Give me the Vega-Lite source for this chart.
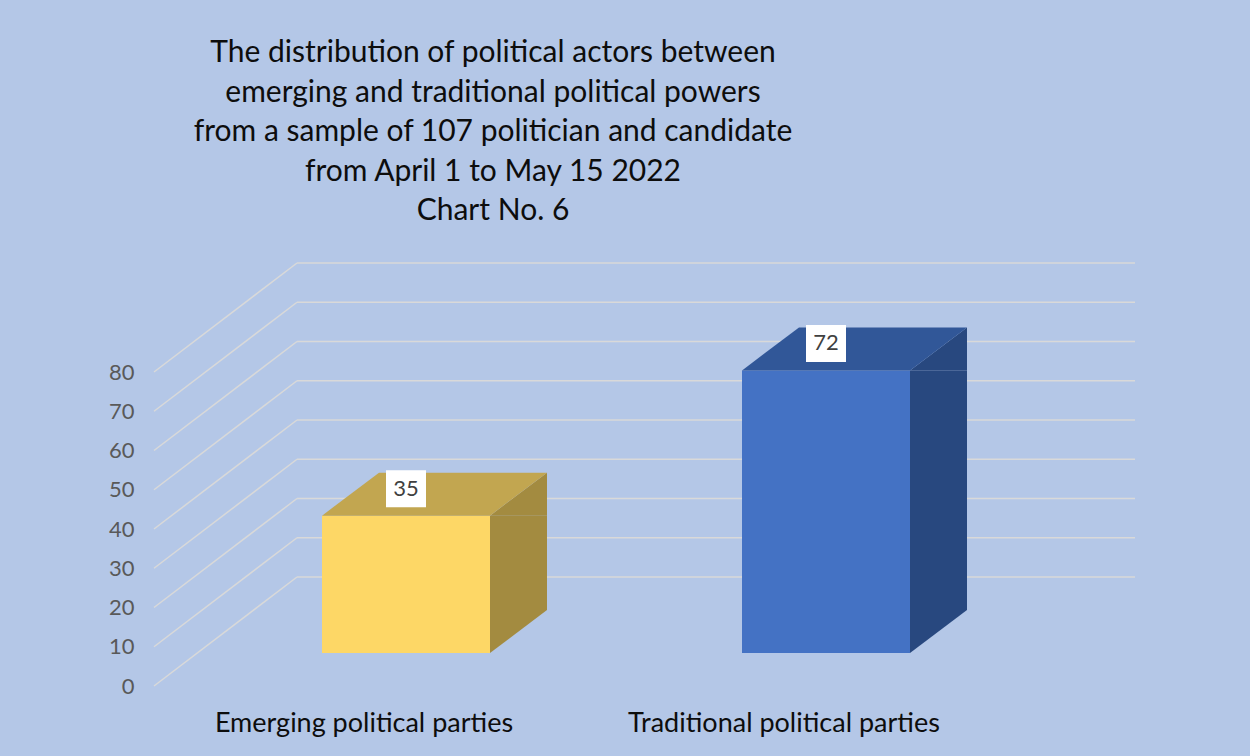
{
  "$schema": "https://vega.github.io/schema/vega-lite/v6.json",
  "width": 840,
  "height": 314,
  "autosize": {"type": "none"},
  "padding": {"left": 154, "top": 372, "right": 256, "bottom": 70},
  "background": "#B4C7E7",
  "title": {
    "text": [
      "The distribution of political actors between",
      "emerging and traditional political powers",
      "from a sample of 107 politician and candidate",
      "from April 1 to May 15 2022",
      "Chart No. 6"
    ],
    "font": "Lato",
    "fontSize": 30,
    "fontWeight": "normal",
    "color": "#0D0D0D",
    "lineHeight": 39.5,
    "anchor": "middle",
    "frame": "group",
    "dx": -81,
    "offset": 36
  },
  "datasets": {
    "bars": [
      {"party": "Emerging political parties", "count": 35},
      {"party": "Traditional political parties", "count": 72}
    ],
    "grid": [
      {"tick": 0}, {"tick": 10}, {"tick": 20}, {"tick": 30}, {"tick": 40},
      {"tick": 50}, {"tick": 60}, {"tick": 70}, {"tick": 80}
    ]
  },
  "layer": [
    {
      "data": {"name": "grid"},
      "mark": {"type": "rule", "color": "#D9D9D9", "strokeWidth": 1.5, "xOffset": -67, "x2Offset": 351, "yOffset": -109, "y2Offset": -109},
      "encoding": {
        "x": {"datum": "Emerging political parties", "type": "nominal", "axis": {"title": null}},
        "x2": {"datum": "Traditional political parties"},
        "y": {
          "field": "tick",
          "type": "quantitative",
          "scale": {"domain": [0, 80], "nice": false, "zero": true},
          "axis": {"title": null, "values": [0, 10, 20, 30, 40, 50, 60, 70, 80], "tickCount": 9, "labelOverlap": false, "labelSeparation": 0}
        },
        "y2": {"field": "tick"}
      }
    },
    {
      "data": {"name": "grid"},
      "mark": {"type": "rule", "color": "#D9D9D9", "strokeWidth": 1.5, "xOffset": -210, "x2Offset": -67, "y2Offset": -109},
      "encoding": {
        "x": {"datum": "Emerging political parties", "type": "nominal", "axis": {"title": null}},
        "x2": {"datum": "Emerging political parties"},
        "y": {"field": "tick", "type": "quantitative", "axis": {"title": null, "values": [0, 10, 20, 30, 40, 50, 60, 70, 80], "tickCount": 9, "labelOverlap": false, "labelSeparation": 0}},
        "y2": {"field": "tick"}
      }
    },
    {
      "data": {"name": "bars"},
      "mark": {"type": "bar", "width": 168, "xOffset": 42, "yOffset": -33, "y2Offset": -33},
      "encoding": {
        "x": {
          "field": "party",
          "type": "nominal",
          "sort": null,
          "scale": {"domain": ["Emerging political parties", "Traditional political parties"], "paddingInner": 0, "paddingOuter": 0},
          "axis": {"title": null}
        },
        "y": {"field": "count", "type": "quantitative", "axis": {"title": null, "values": [0, 10, 20, 30, 40, 50, 60, 70, 80], "tickCount": 9, "labelOverlap": false, "labelSeparation": 0}},
        "y2": {"datum": 0},
        "color": {
          "field": "party",
          "type": "nominal",
          "scale": {"domain": ["Emerging political parties", "Traditional political parties"], "range": ["#FDD766", "#4472C4"]},
          "legend": null
        }
      }
    },
    {
      "data": {"name": "bars"},
      "mark": {"type": "bar", "width": 57, "xOffset": 154.5, "yOffset": -33, "y2Offset": -76},
      "encoding": {
        "x": {"field": "party", "type": "nominal", "sort": null},
        "y": {"field": "count", "type": "quantitative"},
        "y2": {"datum": 0},
        "color": {
          "field": "party",
          "type": "nominal",
          "scale": {"domain": ["Emerging political parties", "Traditional political parties"], "range": ["#A38B40", "#28487F"]},
          "legend": null
        }
      }
    },
    {
      "data": {"name": "bars"},
      "mark": {"type": "point", "filled": true, "opacity": 1, "size": 160000, "xOffset": 42, "yOffset": -33, "shape": "M0.42,0L0.705,-0.215L0.705,0Z"},
      "encoding": {
        "x": {"field": "party", "type": "nominal", "sort": null},
        "y": {"field": "count", "type": "quantitative"},
        "color": {
          "field": "party",
          "type": "nominal",
          "scale": {"domain": ["Emerging political parties", "Traditional political parties"], "range": ["#A38B40", "#28487F"]},
          "legend": null
        }
      }
    },
    {
      "data": {"name": "bars"},
      "mark": {"type": "point", "filled": true, "opacity": 1, "size": 160000, "xOffset": 42, "yOffset": -33, "shape": "M0.42,-0.215L0.42,0L0.705,-0.215Z"},
      "encoding": {
        "x": {"field": "party", "type": "nominal", "sort": null},
        "y": {"datum": 0, "type": "quantitative"},
        "color": {
          "field": "party",
          "type": "nominal",
          "scale": {"domain": ["Emerging political parties", "Traditional political parties"], "range": ["#A38B40", "#28487F"]},
          "legend": null
        }
      }
    },
    {
      "data": {"name": "bars"},
      "mark": {"type": "point", "filled": true, "opacity": 1, "size": 160000, "xOffset": 42, "yOffset": -33, "shape": "M-0.42,0L0.42,0L0.705,-0.215L-0.135,-0.215Z"},
      "encoding": {
        "x": {"field": "party", "type": "nominal", "sort": null},
        "y": {"field": "count", "type": "quantitative"},
        "color": {
          "field": "party",
          "type": "nominal",
          "scale": {"domain": ["Emerging political parties", "Traditional political parties"], "range": ["#C2A650", "#315798"]},
          "legend": null
        }
      }
    },
    {
      "data": {"name": "bars"},
      "mark": {"type": "point", "filled": true, "opacity": 1, "size": 160000, "color": "#FFFFFF", "xOffset": 42, "yOffset": -60, "shape": "M-0.1,-0.0925L0.1,-0.0925L0.1,0.0925L-0.1,0.0925Z"},
      "encoding": {
        "x": {"field": "party", "type": "nominal", "sort": null},
        "y": {"field": "count", "type": "quantitative"}
      }
    },
    {
      "data": {"name": "bars"},
      "mark": {"type": "text", "font": "Lato", "fontSize": 22, "color": "#404040", "align": "center", "baseline": "middle", "xOffset": 42, "yOffset": -60},
      "encoding": {
        "x": {"field": "party", "type": "nominal", "sort": null},
        "y": {"field": "count", "type": "quantitative"},
        "text": {"field": "count", "type": "quantitative"}
      }
    }
  ],
  "resolve": {"scale": {"color": "independent"}},
  "config": {
    "view": {"stroke": null},
    "font": "Lato",
    "axisX": {
      "domain": false,
      "ticks": false,
      "grid": false,
      "labelAngle": 0,
      "labelAlign": "center",
      "labelBaseline": "top",
      "labelLimit": 0,
      "labelPadding": 24,
      "labelFont": "Lato",
      "labelFontSize": 27,
      "labelColor": "#0D0D0D"
    },
    "axisY": {
      "domain": false,
      "ticks": false,
      "grid": false,
      "labelOverlap": false,
      "labelPadding": 20,
      "labelFont": "Lato",
      "labelFontSize": 22,
      "labelColor": "#595959"
    }
  }
}
